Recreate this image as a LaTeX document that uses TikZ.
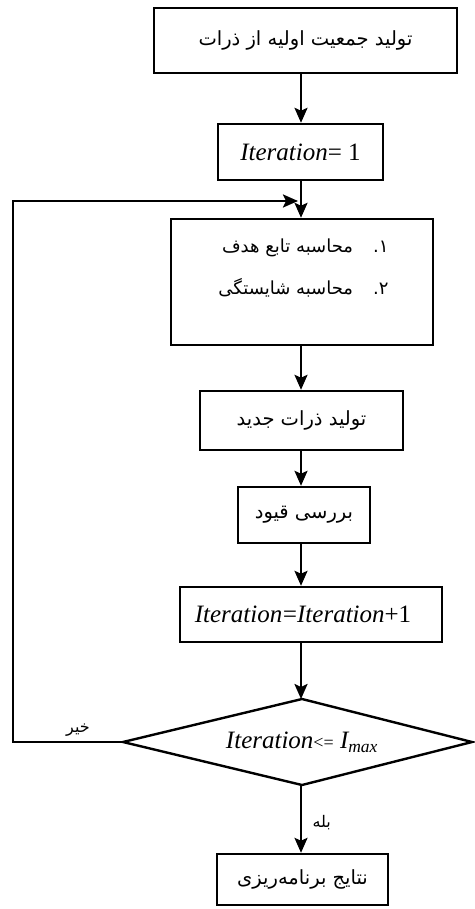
\documentclass[tikz,border=0pt]{standalone}
\usepackage{fontspec}
\setmainfont{Liberation Serif}
\newfontfamily\fa[Script=Arabic]{DejaVu Sans}
\TeXXeTstate=1
\usetikzlibrary{arrows.meta}
\begin{document}
\begin{tikzpicture}[x=1pt,y=-1pt,
  box/.style={draw,line width=2.4pt,inner sep=0pt},
  arr/.style={line width=2.4pt,-{Stealth[length=15pt,width=13pt,inset=3pt]}},
  ln/.style={line width=2.4pt},
  fat/.style={font=\fa\fontsize{19.5}{22}\selectfont},
  fas/.style={font=\fa\fontsize{18}{21}\selectfont},
  fal/.style={font=\fa\fontsize{16}{18}\selectfont},
  lat/.style={font=\fontsize{25}{28}\selectfont}]
\useasboundingbox[fill=white] (0,0) rectangle (474,909);
\coordinate (ax) at (301,0);
\node[box,fat,minimum width=303pt,minimum height=65pt] (b1) at (305.5,40.5) {\beginR تولید جمعیت اولیه از ذرات\endR};
\node[box,lat,minimum width=165pt,minimum height=56pt] (b2) at (300.5,152) {\textit{Iteration}= 1};
\node[box,minimum width=262pt,minimum height=126pt] (b3) at (302,282) {};
\node[fas,anchor=east] (t31) at (392,248) {\beginR ۱.\hspace{20pt}محاسبه تابع هدف\endR};
\node[fas,anchor=east] (t32) at (392,288) {\beginR ۲.\hspace{20pt}محاسبه شایستگی\endR};
\node[box,fat,minimum width=203pt,minimum height=59pt] (b4) at (301.5,420.5) {\beginR تولید ذرات جدید\endR};
\node[box,fat,minimum width=132pt,minimum height=56pt] (b5) at (304,515) {\beginR بررسی قیود\endR};
\node[box,minimum width=262pt,minimum height=55pt] (b6) at (311,614.5) {};
\node[font=\fontsize{25}{28}\selectfont] (t6) at (303,614.5) {\textit{Iteration}\kern-1pt\textit{=}\kern-1pt\textit{Iteration}+1};
\coordinate (dT) at (302,699);
\coordinate (dL) at (123,742);
\coordinate (dB) at (302,785);
\coordinate (dR) at (472,742);
\draw[ln,line join=miter] (dT) -- (dR) -- (dB) -- (dL) -- cycle;
\node[lat] (dtext) at (302,742) {\textit{Iteration}{\fontsize{18}{20}\selectfont<=} \textit{I\textsubscript{max}}};
\node[box,fat,minimum width=171pt,minimum height=51pt] (b7) at (302.5,879.5) {\beginR نتایج برنامه‌ریزی\endR};
\coordinate (c1) at (13,742);
\coordinate (c2) at (13,201);
\coordinate (c3) at (298,201);
\draw[arr] (b1.south -| ax) -- (b2.north -| ax);
\draw[arr] (b2.south -| ax) -- (b3.north -| ax);
\draw[arr] (b3.south -| ax) -- (b4.north -| ax);
\draw[arr] (b4.south -| ax) -- (b5.north -| ax);
\draw[arr] (b5.south -| ax) -- (b6.north -| ax);
\draw[arr] (b6.south -| ax) -- (dT -| ax);
\draw[arr] (dB -| ax) -- (b7.north -| ax);
\draw[arr] (dL) -- (c1) -- (c2) -- (c3);
\node[fal,anchor=south] (no) at (78,740) {\beginR خیر\endR};
\node[fal,anchor=west] (yes) at (309,823) {\beginR بله\endR};
\end{tikzpicture}
\end{document}
